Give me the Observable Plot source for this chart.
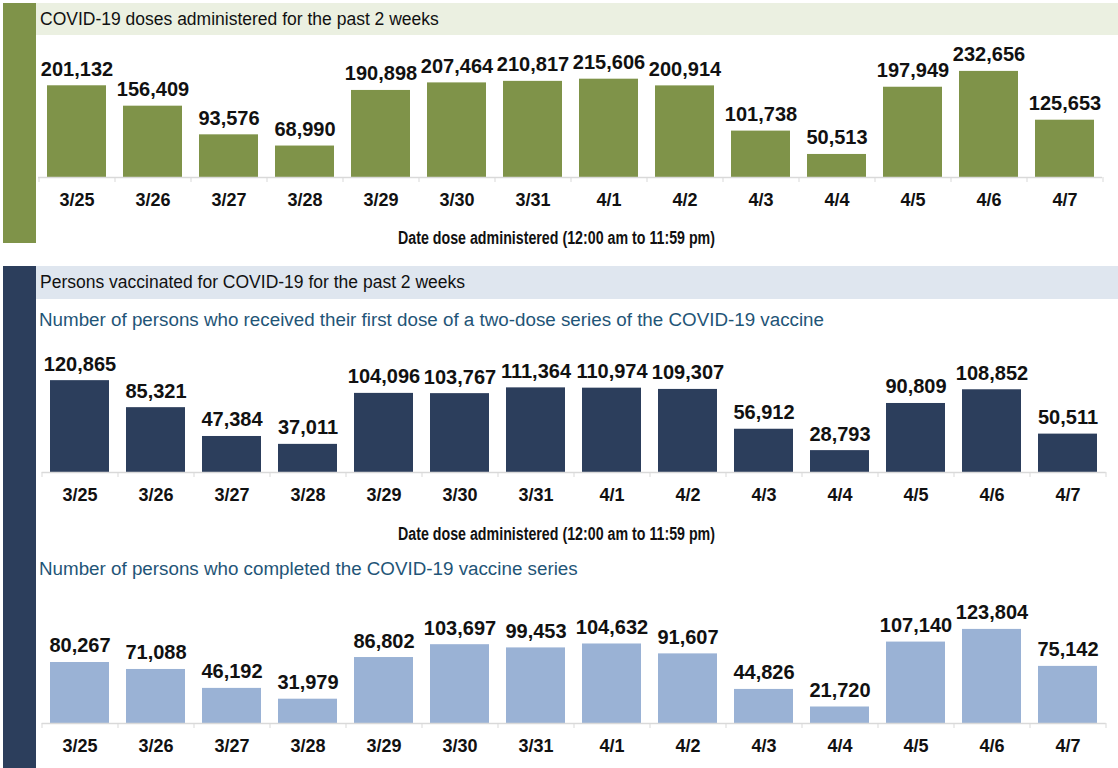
<!DOCTYPE html>
<html><head><meta charset="utf-8">
<script src="https://cdn.jsdelivr.net/npm/d3@7"></script>
<script src="https://cdn.jsdelivr.net/npm/@observablehq/plot@0.6"></script>
<style>
body{margin:0;background:#fff;font-family:"Liberation Sans",Arial,sans-serif;}
#root{position:relative;width:1118px;height:768px;overflow:hidden;}
.stripe{position:absolute;left:3px;width:33px;}
.band{position:absolute;left:36px;right:0;font-size:17.5px;padding-left:4px;color:#111;white-space:nowrap;}
.sub{position:absolute;left:39px;font-size:18.8px;line-height:22px;color:#1f5577;white-space:nowrap;}
.xlab{position:absolute;white-space:nowrap;font-family:"Liberation Sans",Arial,sans-serif;font-weight:bold;font-size:17.5px;line-height:20px;color:#111;transform-origin:0 50%;}
.chart{position:absolute;left:0;}
</style></head>
<body><div id="root"></div>
<script>
const dates = ["3/25","3/26","3/27","3/28","3/29","3/30","3/31","4/1","4/2","4/3","4/4","4/5","4/6","4/7"];
const dosesAdministered = [201132,156409,93576,68990,190898,207464,210817,215606,200914,101738,50513,197949,232656,125653];
const firstDose = [120865,85321,47384,37011,104096,103767,111364,110974,109307,56912,28793,90809,108852,50511];
const completedSeries = [80267,71088,46192,31979,86802,103697,99453,104632,91607,44826,21720,107140,123804,75142];
const title1 = "COVID-19 doses administered for the past 2 weeks";
const title2 = "Persons vaccinated for COVID-19 for the past 2 weeks";
const subtitle1 = "Number of persons who received their first dose of a two-dose series of the COVID-19 vaccine";
const subtitle2 = "Number of persons who completed the COVID-19 vaccine series";
const xLabel = "Date dose administered (12:00 am to 11:59 pm)";

const root = document.getElementById("root");
function box(cls, css, text) {
  const d = document.createElement("div");
  d.className = cls;
  Object.assign(d.style, css);
  if (text) d.textContent = text;
  root.appendChild(d);
  return d;
}
// condensed axis title: fit to a target width
function xlab(top, left, targetWidth) {
  const d = box("xlab", {top: top + "px", left: left + "px"}, xLabel);
  const w = d.getBoundingClientRect().width;
  d.style.transform = `scaleX(${targetWidth / w})`;
}

const W = 1118;
function chart(values, color, yMax, cfg) {
  const n = dates.length;
  const paddingInner = 0.228, paddingOuter = 0.114;
  const step = (W - cfg.ml - cfg.mr) / (n - paddingInner + 2 * paddingOuter);
  const pxPerUnit = (cfg.height - cfg.mt - cfg.mb) / yMax;
  const tickLen = 5 / pxPerUnit;
  const data = dates.map((d, i) => ({date: d, value: values[i]}));
  const fmt = d3.format(",");
  const p = Plot.plot({
    width: W, height: cfg.height,
    marginTop: cfg.mt, marginBottom: cfg.mb, marginLeft: cfg.ml, marginRight: cfg.mr,
    x: {domain: dates, paddingInner, paddingOuter},
    y: {domain: [0, yMax], axis: null},
    style: {fontFamily: "Liberation Sans, Arial, sans-serif", background: "transparent", color: "#111", overflow: "visible"},
    marks: [
      Plot.barY(data, {x: "date", y: "value", fill: color}),
      Plot.ruleY([0], {stroke: "#d9d9d9", strokeWidth: 1.3}),
      Plot.ruleX(dates, {x: d => d, y1: 0, y2: -tickLen, dx: -step / 2, stroke: "#d9d9d9"}),
      Plot.ruleX([dates[n - 1]], {x: d => d, y1: 0, y2: -tickLen, dx: step / 2, stroke: "#d9d9d9"}),
      Plot.text(data, {x: "date", y: "value", text: d => fmt(d.value), lineAnchor: "bottom", dy: -10, fontSize: 20, fontWeight: "bold", fill: "#111"}),
      Plot.axisX({tickSize: 0, tickPadding: 16, fontSize: 18, fontWeight: "bold", label: null})
    ]
  });
  p.classList.add("chart");
  p.style.top = cfg.top + "px";
  p.style.position = "absolute";
  p.style.left = "0px";
  root.appendChild(p);
}

// Section 1
box("stripe", {top: "3px", height: "240px", background: "#7f9349"});
box("band", {top: "3px", height: "32px", lineHeight: "32px", background: "#ebf0e1"}, title1);
chart(dosesAdministered, "#7f9349", 250000, {top: 36, height: 214, mt: 27, mb: 73, ml: 38, mr: 16});
xlab(228, 398, 317);

// Section 2
box("stripe", {top: "266px", height: "502px", background: "#2c3e5c"});
box("band", {top: "266px", height: "33px", lineHeight: "33px", background: "#dfe6ef"}, title2);
box("sub", {top: "309px"}, subtitle1);
chart(firstDose, "#2c3e5c", 150000, {top: 330, height: 215, mt: 28, mb: 73, ml: 41.7, mr: 12.3});
xlab(524, 398, 317);
box("sub", {top: "558px"}, subtitle2);
chart(completedSeries, "#9ab2d5", 150000, {top: 580, height: 188, mt: 29, mb: 45, ml: 41.7, mr: 12.3});
</script>
</body></html>
